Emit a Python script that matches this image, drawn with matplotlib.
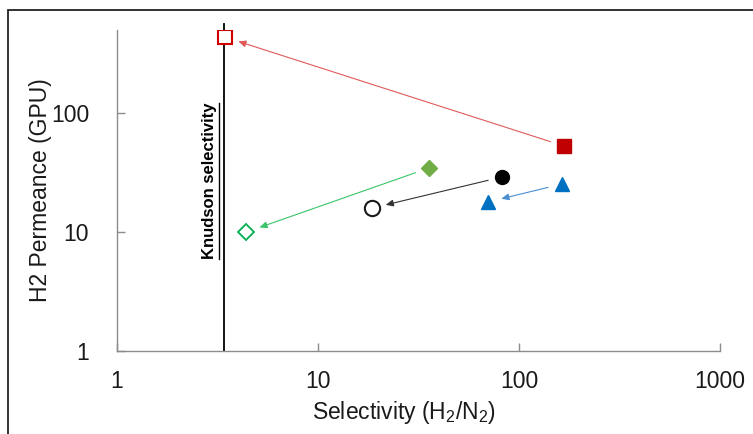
import matplotlib
matplotlib.use("Agg")
import matplotlib.pyplot as plt
from matplotlib.patches import Rectangle
from matplotlib.lines import Line2D

plt.rcParams['font.family'] = ['Liberation Sans', 'DejaVu Sans']

# Membrane performance: selectivity (H2/N2) vs H2 permeance (GPU)
# Each pair: (filled marker = before, open marker = after)
red_sel = [167, 3.45]
red_perm = [53, 435]
green_sel = [35.5, 4.4]
green_perm = [34.5, 10.0]
black_sel = [82, 18.6]
black_perm = [29, 15.9]
blue_sel = [163, 70]
blue_perm = [25.3, 17.9]

knudsen_sel = 3.4

x_ticks = [1, 10, 100, 1000]
y_ticks = [1, 10, 100]

fig = plt.figure(figsize=(7.53, 4.34), dpi=100)
ax = fig.add_axes([117 / 753, 1 - 351 / 434, 603 / 753, 321 / 434])
ax.set_xscale('log')
ax.set_yscale('log')
ax.set_xlim(1, 1000)
ax.set_ylim(1, 500)

axis_gray = '#8c8c8c'
for side in ['top', 'right']:
    ax.spines[side].set_visible(False)
for side in ['left', 'bottom']:
    ax.spines[side].set_color(axis_gray)
    ax.spines[side].set_linewidth(1.0)

ax.set_xticks(x_ticks)
ax.set_xticklabels([str(v) for v in x_ticks])
ax.set_yticks(y_ticks)
ax.set_yticklabels([str(v) for v in y_ticks])
ax.minorticks_off()
ax.tick_params(axis='both', which='major', direction='in', length=6,
               width=1.0, color=axis_gray, labelsize=16.5, labelcolor='#1a1a1a')
ax.tick_params(axis='x', pad=14)
ax.tick_params(axis='y', pad=20)

ax.set_xlabel('Selectivity (H$\\mathregular{_2}$/N$\\mathregular{_2}$)',
              fontsize=16.5, color='#1a1a1a')
ax.set_ylabel('H2 Permeance (GPU)', fontsize=16.5, color='#1a1a1a')
ax.xaxis.set_label_coords((404 - 117) / 603, -0.15)
ax.yaxis.set_label_coords(-0.107, 0.5)

# Knudsen selectivity reference line
ax.plot([knudsen_sel, knudsen_sel], [1, 560], color='black', lw=1.3,
        clip_on=False, zorder=2)
kt = ax.text(2.9, 26.8, 'Knudson selectivity', rotation=90, ha='center',
             va='center', fontsize=12, fontweight='bold', color='black')


def arrow(sel, perm, color):
    ax.annotate('', xy=(sel[1], perm[1]), xytext=(sel[0], perm[0]),
                arrowprops=dict(arrowstyle='-|>,head_length=0.45,head_width=0.2',
                                color=color, lw=0.8, shrinkA=10, shrinkB=10),
                zorder=3)


arrow(red_sel, red_perm, '#e05a5a')
arrow(green_sel, green_perm, '#3cc46a')
arrow(black_sel, black_perm, '#333333')
arrow(blue_sel, blue_perm, '#4a8fd4')

# filled markers (initial)
ax.plot(red_sel[0], red_perm[0], 's', ms=10, color='#c00000', mec='#c00000', zorder=4)
ax.plot(green_sel[0], green_perm[0], 'D', ms=8.5, color='#70ad47', mec='#70ad47', zorder=4)
ax.plot(black_sel[0], black_perm[0], 'o', ms=10, color='black', zorder=4)
ax.plot(blue_sel, blue_perm, '^', ms=10, color='#0070c0', mec='#0070c0', zorder=4, ls='none')

# open markers (final)
ax.plot(red_sel[1], red_perm[1], 's', ms=10, mfc='white', mec='#d00000', mew=1.5, zorder=4)
ax.plot(green_sel[1], green_perm[1], 'D', ms=8, mfc='white', mec='#00b050', mew=1.3, zorder=4)
ax.plot(black_sel[1], black_perm[1], 'o', ms=11, mfc='white', mec='#1a1a1a', mew=1.5, zorder=4)

# underline for the rotated label
fig.canvas.draw()
bb = kt.get_window_extent()
ux = bb.x1 + 1.5
fig.add_artist(Line2D([ux / fig.bbox.width] * 2,
                      [bb.y0 / fig.bbox.height, bb.y1 / fig.bbox.height],
                      transform=fig.transFigure, color='black', lw=1.0))

# figure frame
fig.add_artist(Rectangle((8 / 753, -0.05), 1.2, 1 - 10 / 434 + 0.05,
                         transform=fig.transFigure, fill=False,
                         edgecolor='#222222', lw=1.3, clip_on=False))

fig.savefig('out.png', dpi=100)
